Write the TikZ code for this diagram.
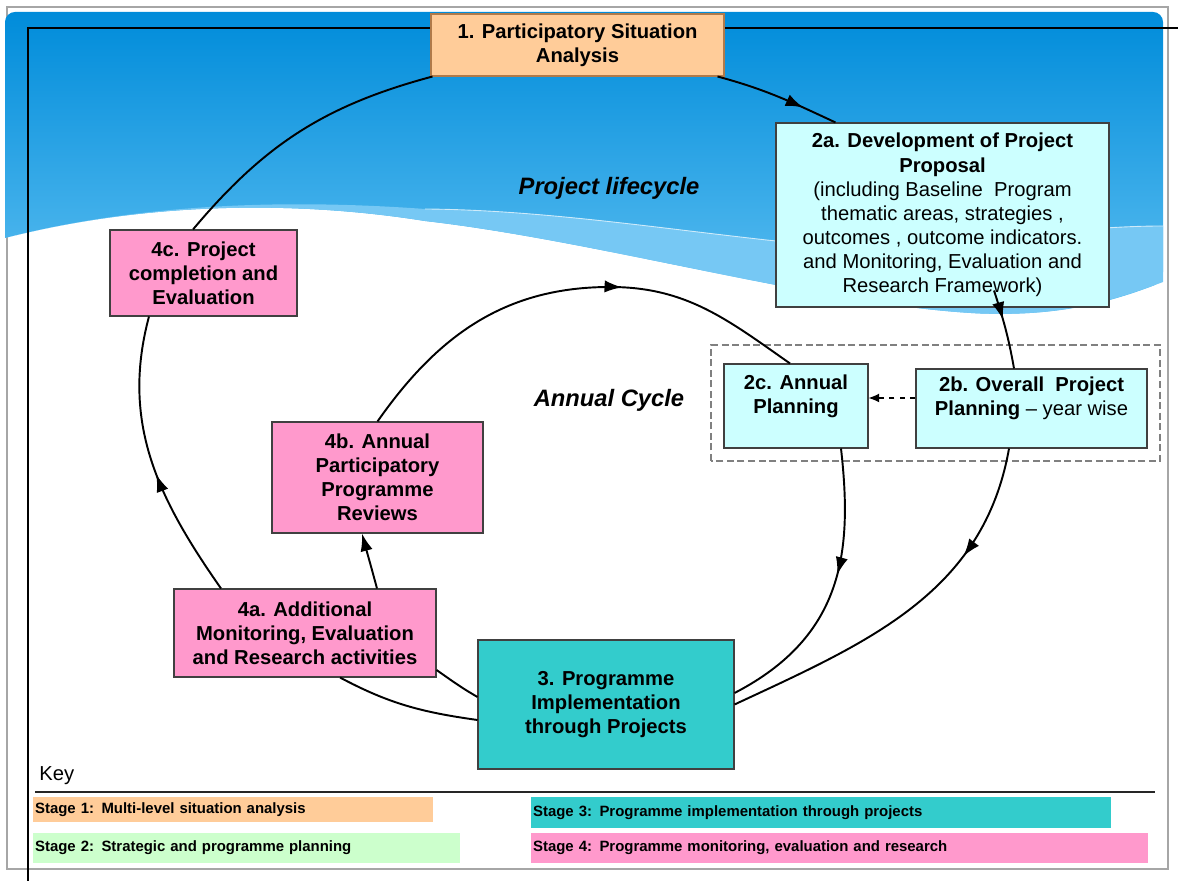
\documentclass[tikz,border=0pt]{standalone}
\usepackage{fontspec}
\setmainfont{Liberation Sans}
\usetikzlibrary{arrows.meta,calc,decorations.markings}

\definecolor{situationfill}{HTML}{FFCC99}
\definecolor{situationline}{HTML}{B07A4A}
\definecolor{planfill}{HTML}{CCFFFF}
\definecolor{implfill}{HTML}{33CCCC}
\definecolor{reviewfill}{HTML}{FF99CC}
\definecolor{strategyfill}{HTML}{CCFFCC}
\definecolor{skytop}{RGB}{0,140,218}
\definecolor{skybottom}{RGB}{95,192,242}
\definecolor{skyband}{RGB}{118,200,244}

\begin{document}
\begin{tikzpicture}[
    box/.style={rectangle, draw=black!75, line width=0.6pt, align=center, inner sep=2pt, font=\fontsize{11.5}{13.7}\selectfont\bfseries},
    flow/.style={line width=1.1pt, black},
    arrowat/.style={postaction={decorate, decoration={markings, mark=at position #1 with {\arrow{Latex[length=10pt,width=7pt]}}}}},
    cyclename/.style={font=\fontsize{13.5}{16}\selectfont\bfseries\itshape},
    keybox/.style={anchor=west, inner xsep=1pt, inner ysep=0pt, align=left, font=\fontsize{8.5}{10}\selectfont\bfseries}
]
\useasboundingbox (0,0) rectangle (23.56,17.62);

% Backdrop
\draw[gray!70, line width=0.8pt] (0.14,0.24) rectangle (23.36,17.48);
\shade[top color=skytop, bottom color=skybottom, rounded corners=0.2cm]
  (0.10,12.86) -- (0.10,17.38) -- (23.26,17.38) -- (23.26,11.98) [sharp corners]
  .. controls (22,11.5) and (21,11.3) .. (19.6,11.35)
  .. controls (16.5,11.5) and (12,12.8) .. (8.5,13.2)
  .. controls (6,13.6) and (3,13.6) .. (0.10,12.86) -- cycle;
\fill[skyband] (0.10,12.86) .. controls (3,13.6) and (6,13.62) .. (8.5,13.44)
  .. controls (11,13.42) and (13.5,13.0) .. (16,12.75)
  .. controls (18.5,12.55) and (21,13.1) .. (23.26,13.1)
  -- (23.26,11.98)
  .. controls (22,11.5) and (21,11.3) .. (19.6,11.35)
  .. controls (16.5,11.5) and (12,12.8) .. (8.5,13.2)
  .. controls (6,13.6) and (3,13.6) .. (0.10,12.86) -- cycle;
\draw[white, opacity=0.7, line width=0.5pt] (8.5,13.44)
  .. controls (11,13.42) and (13.5,13.0) .. (16,12.75)
  .. controls (18.5,12.55) and (21,13.1) .. (23.26,13.1);
\draw[black, line width=0.7pt] (23.56,17.06) -- (0.56,17.06) -- (0.56,0);

% Planning group
\draw[gray, line width=0.7pt, dash pattern=on 4pt off 2pt] (14.22,8.40) rectangle (23.2,10.72);

% Cycle names
\node[cyclename] (lifecycle) at (12.18,13.86) {Project lifecycle};
\node[cyclename] (annualcycle) at (12.18,9.62) {Annual Cycle};

% Stages
\node[box, fill=situationfill, draw=situationline, minimum width=5.86cm, minimum height=1.24cm] (situation) at (11.55,16.72) {1. Participatory Situation\\Analysis};
\node[box, fill=planfill, minimum width=6.66cm, minimum height=3.68cm] (proposal) at (18.85,13.32) {2a. Development of Project\\Proposal\\\mdseries (including Baseline~ Program\\\mdseries thematic areas, strategies ,\\\mdseries outcomes , outcome indicators.\\\mdseries and Monitoring, Evaluation and\\\mdseries Research Framework)};
\node[box, fill=planfill, minimum width=4.62cm, minimum height=1.58cm] (overall) at (20.63,9.45) {2b. Overall~ Project\\Planning {\mdseries -- year wise}\\\mbox{}};
\node[box, fill=planfill, minimum width=2.88cm, minimum height=1.68cm] (annual) at (15.92,9.50) {2c. Annual\\Planning\\\mbox{}};
\node[box, fill=implfill, minimum width=5.12cm, minimum height=2.58cm] (implementation) at (12.12,3.53) {3. Programme\\Implementation\\through Projects};
\node[box, fill=reviewfill, minimum width=5.24cm, minimum height=1.76cm] (additional) at (6.10,4.96) {4a. Additional\\Monitoring, Evaluation\\and Research activities};
\node[box, fill=reviewfill, minimum width=4.22cm, minimum height=2.22cm] (reviews) at (7.55,8.07) {4b. Annual\\Participatory\\Programme\\Reviews};
\node[box, fill=reviewfill, minimum width=3.74cm, minimum height=1.72cm] (completion) at (4.07,12.16) {4c. Project\\completion and\\Evaluation};
\coordinate (cycletop) at (12.2,11.88);

% Project lifecycle
\draw[flow, arrowat=0.72] ([xshift=-0.14cm]situation.south east) to[out=-15, in=155] ([xshift=1.2cm]proposal.north west);
\draw[flow, arrowat=0.38] ($(proposal.south)+(1.03,0.34)$) to[out=-72, in=100] ([xshift=-0.35cm]overall.north);
\draw[flow, arrowat=0.3] ([xshift=-0.45cm]overall.south) to[out=-100, in=25] (implementation.east);
\draw[flow] ([yshift=0.15cm]implementation.west) to[out=150, in=-35] ([yshift=-0.74cm]additional.east);
\draw[flow, arrowat=0.45] ([xshift=-1.68cm]additional.north) to[out=125, in=-105] ([xshift=-1.09cm]completion.south);
\draw[flow] ([xshift=-0.21cm]completion.north) to[out=50, in=195] ([xshift=0.04cm]situation.south west);

% Annual cycle
\draw[flow, -{Latex[length=6pt,width=5pt]}, line width=0.6pt, dashed] ([yshift=0.21cm]overall.west) -- ([yshift=0.21cm]overall.west -| annual.east);
\draw[flow, arrowat=0.44] ([xshift=0.9cm]annual.south) .. controls +(0.23,-2.04) and +(2.2,1.14) .. ([yshift=0.23cm]implementation.east);
\draw[flow] ([yshift=-0.31cm]implementation.west) to[out=172, in=-28] ([xshift=0.7cm]additional.south);
\draw[flow, -{Latex[length=10pt,width=7pt]}] ([xshift=1.44cm]additional.north) to[out=105, in=-75] ([xshift=-0.31cm]reviews.south);
\draw[flow, arrowat=0.61] (reviews.north) to[out=55, in=180] (cycletop) to[out=0, in=145] ([xshift=-0.12cm]annual.north);

% Key
\node[anchor=west, inner sep=0pt, font=\fontsize{11.5}{13.7}\selectfont] (key) at (0.78,2.1) {Key};
\draw[line width=1.2pt, black!85] (0.7,1.78) -- (23.1,1.78);
\node[keybox, fill=situationfill, text width=7.92cm, minimum height=0.5cm] (stageone) at (0.66,1.43) {Stage 1: Multi-level situation analysis};
\node[keybox, fill=strategyfill, text width=8.47cm, minimum height=0.6cm] (stagetwo) at (0.66,0.66) {Stage 2: Strategic and programme planning};
\node[keybox, fill=implfill, text width=11.53cm, minimum height=0.62cm] (stagethree) at (10.62,1.37) {Stage 3: Programme implementation through projects};
\node[keybox, fill=reviewfill, text width=12.27cm, minimum height=0.6cm] (stagefour) at (10.62,0.66) {Stage 4: Programme monitoring, evaluation and research};

\end{tikzpicture}
\end{document}
